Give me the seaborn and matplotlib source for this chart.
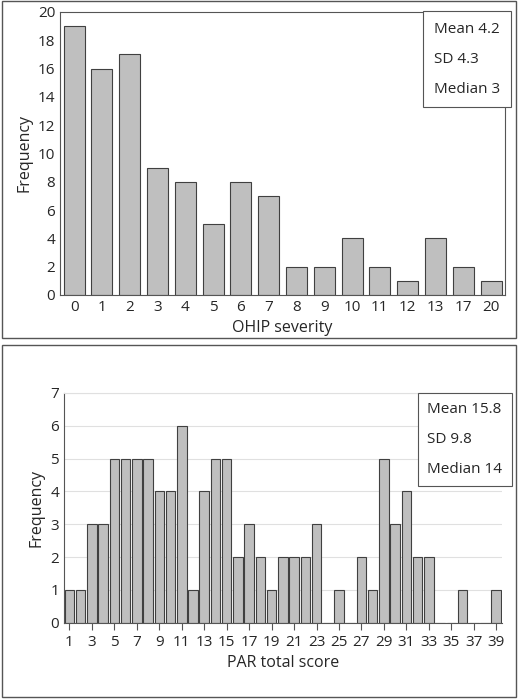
import matplotlib
matplotlib.use("Agg")
import matplotlib.pyplot as plt
import seaborn as sns
import pandas as pd
from matplotlib.patches import Rectangle

ohip_cats = ["0", "1", "2", "3", "4", "5", "6", "7", "8", "9", "10", "11", "12", "13", "17", "20"]
ohip_freq = [19, 16, 17, 9, 8, 5, 8, 7, 2, 2, 4, 2, 1, 4, 2, 1]

par_cats = [str(i) for i in range(1, 40)]
par_freq = [1, 1, 3, 3, 5, 5, 5, 5, 4, 4, 6, 1, 4, 5, 5, 2, 3, 2, 1, 2,
            2, 2, 3, 0, 1, 0, 2, 1, 5, 3, 4, 2, 2, 0, 0, 1, 0, 0, 1]

sns.set_style("white")
plt.rcParams["font.family"] = ["Open Sans", "DejaVu Sans"]

fig = plt.figure(figsize=(5.19, 6.99), dpi=100)
# panel borders
fig.patches.append(Rectangle((0.003, 0.517), 0.992, 0.481, transform=fig.transFigure,
                             fill=False, edgecolor="#555555", lw=1))
fig.patches.append(Rectangle((0.003, 0.003), 0.992, 0.503, transform=fig.transFigure,
                             fill=False, edgecolor="#555555", lw=1))

ax1 = fig.add_axes([0.116, 0.578, 0.857, 0.405])
ax2 = fig.add_axes([0.123, 0.109, 0.844, 0.329])

df1 = pd.DataFrame({"cat": ohip_cats, "freq": ohip_freq})
sns.barplot(data=df1, x="cat", y="freq", ax=ax1, color="#bfbfbf",
            edgecolor="#404040", linewidth=0.8, width=0.75, saturation=1)
ax1.set_ylim(0, 20)
ax1.set_yticks(range(0, 21, 2))
ax1.set_xlabel("OHIP severity", fontsize=11.5)
ax1.set_ylabel("Frequency", fontsize=11.5)
ax1.text(0.84, 0.965, "Mean 4.2\n\nSD 4.3\n\nMedian 3", transform=ax1.transAxes,
         va="top", ha="left", fontsize=11, linespacing=1.0,
         bbox=dict(boxstyle="square,pad=0.7", fc="white", ec="#555555", lw=0.8))

df2 = pd.DataFrame({"cat": par_cats, "freq": par_freq})
ax2.yaxis.grid(True, color="#e0e0e0", lw=0.8)
ax2.set_axisbelow(True)
sns.barplot(data=df2, x="cat", y="freq", ax=ax2, color="#bfbfbf",
            edgecolor="#404040", linewidth=0.8, width=0.85, saturation=1)
ax2.set_ylim(0, 7)
ax2.set_xticks(range(0, 39, 2))
ax2.set_xticklabels(par_cats[::2])
ax2.set_xlabel("PAR total score", fontsize=11.5)
ax2.set_ylabel("Frequency", fontsize=11.5)
ax2.text(0.83, 0.96, "Mean 15.8\n\nSD 9.8\n\nMedian 14", transform=ax2.transAxes,
         va="top", ha="left", fontsize=11, linespacing=1.0,
         bbox=dict(boxstyle="square,pad=0.6", fc="white", ec="#555555", lw=0.8))

for ax in (ax1, ax2):
    for s in ax.spines.values():
        s.set_color("#555555")
        s.set_linewidth(0.8)
    ax.tick_params(labelsize=11, length=0)

ax2.spines["top"].set_color("#e0e0e0")
ax2.spines["right"].set_visible(False)
ax2.tick_params(axis="x", length=5, direction="out", bottom=True, color="#555555")

fig.savefig("out.png", dpi=100)
